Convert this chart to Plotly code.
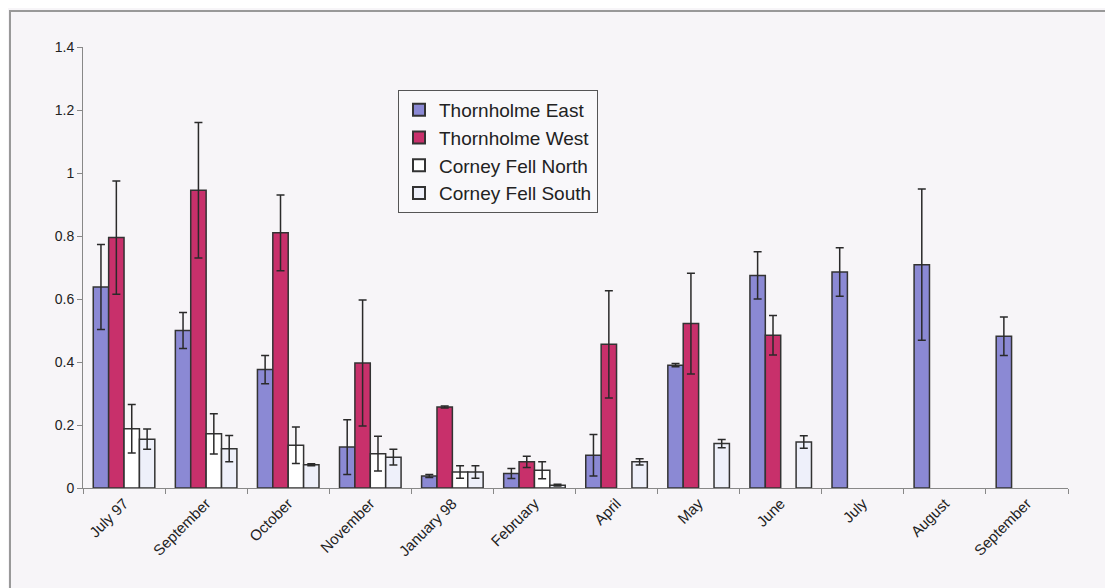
import plotly.graph_objects as go

months = ["July 97", "September", "October", "November", "January 98", "February",
          "April", "May", "June", "July", "August", "September"]

series_names = ["Thornholme East", "Thornholme West", "Corney Fell North", "Corney Fell South"]

te_vals = [0.638, 0.50, 0.376, 0.130, 0.038, 0.046, 0.104, 0.390, 0.675, 0.686, 0.709, 0.482]
te_err = [0.135, 0.057, 0.045, 0.087, 0.005, 0.016, 0.066, 0.005, 0.075, 0.077, 0.240, 0.061]

tw_vals = [0.795, 0.945, 0.810, 0.397, 0.257, 0.083, 0.456, 0.522, 0.485, None, None, None]
tw_err = [0.180, 0.215, 0.120, 0.200, 0.003, 0.018, 0.170, 0.160, 0.063, None, None, None]

cfn_vals = [0.188, 0.172, 0.136, 0.109, 0.051, 0.056, None, None, None, None, None, None]
cfn_err = [0.077, 0.064, 0.058, 0.055, 0.020, 0.027, None, None, None, None, None, None]

cfs_vals = [0.155, 0.125, 0.074, 0.098, 0.051, 0.009, 0.083, 0.141, 0.146, None, None, None]
cfs_err = [0.032, 0.042, 0.003, 0.025, 0.020, 0.003, 0.010, 0.013, 0.020, None, None, None]

y_ticks = [0, 0.2, 0.4, 0.6, 0.8, 1, 1.2, 1.4]

colors = ["#8B89D4", "#C8306B", "#FFFFFF", "#EEF0FA"]
all_vals = [te_vals, tw_vals, cfn_vals, cfs_vals]
all_errs = [te_err, tw_err, cfn_err, cfs_err]

x_pos = list(range(len(months)))

fig = go.Figure()
for name, vals, errs, col in zip(series_names, all_vals, all_errs, colors):
    fig.add_trace(go.Bar(
        x=x_pos, y=vals, name=name,
        marker=dict(color=col, line=dict(color="#333333", width=1.5)),
        error_y=dict(type="data", array=[e if e is not None else 0 for e in errs],
                     symmetric=True, color="#2a2a2a", thickness=1.5, width=4),
    ))

bg = "#F7F5F8"
W, H = 1105, 580
L, T, R, B = 75, 39, 45, 100
pw, ph = W - L - R, H - T - B

fig.update_layout(
    width=W, height=H,
    barmode="group", bargap=0.25, bargroupgap=0,
    paper_bgcolor=bg, plot_bgcolor=bg,
    margin=dict(l=L, r=R, t=T, b=B),
    font=dict(family="Arial, Liberation Sans, sans-serif", color="#222222"),
    showlegend=True,
    legend=dict(
        x=(390 - L) / pw, y=(T + ph - 82) / ph, xanchor="left", yanchor="top",
        bgcolor="#F9F8FA", bordercolor="#555555", borderwidth=1,
        font=dict(size=19, color="#222222"),
        tracegroupgap=0, itemsizing="constant",
    ),
    xaxis=dict(
        range=[-0.5, len(months) - 0.5],
        tickmode="array", tickvals=x_pos, ticktext=months,
        tickangle=-45, ticks="",
        tickfont=dict(size=15, color="#222222"),
        showline=True, linecolor="#888888", linewidth=1,
        showgrid=False, zeroline=False,
        minor=dict(tickmode="array", tickvals=[i - 0.5 for i in range(len(months) + 1)],
                   ticks="outside", ticklen=5, tickcolor="#888888", showgrid=False),
    ),
    yaxis=dict(
        range=[0, 1.4], tickmode="array", tickvals=y_ticks,
        ticks="outside", ticklen=5, tickcolor="#888888",
        tickfont=dict(size=14, color="#222222"),
        showline=True, linecolor="#888888", linewidth=1,
        showgrid=False, zeroline=False,
    ),
    shapes=[dict(type="rect", xref="paper", yref="paper",
                 x0=(2 - L) / pw, x1=1.2, y0=-0.5, y1=(T + ph - 3) / ph,
                 line=dict(color="#999999", width=2), fillcolor="rgba(0,0,0,0)",
                 layer="below")],
)

fig.write_html("out.html")
